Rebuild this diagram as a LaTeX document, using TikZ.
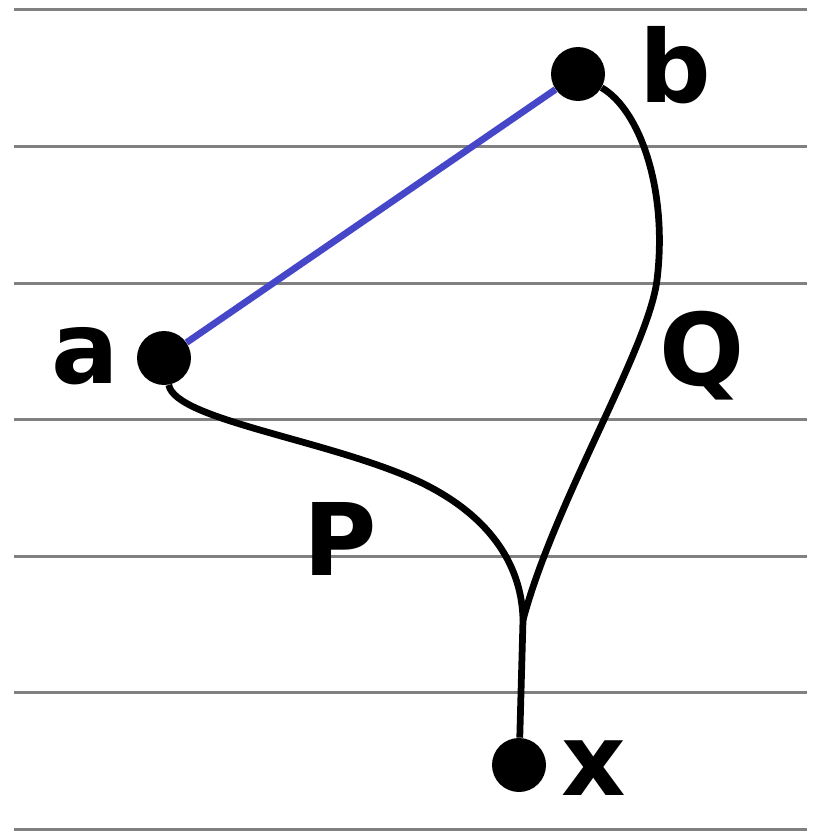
\documentclass[tikz,border=0pt]{standalone}
\usepackage{fontspec}
\setmainfont{DejaVu Sans}
\usetikzlibrary{positioning}
\definecolor{Rule}{HTML}{808080}
\definecolor{Edge}{HTML}{4646C8}

\tikzset{
  dot/.style={circle,fill=black,draw=none,minimum size=1.08cm,inner sep=0pt},
  lbl/.style={inner sep=0pt,anchor=base,text=black,font=\fontsize{57}{60}\selectfont\bfseries},
  path/.style={black,line width=0.135cm}
}

\begin{document}
\begin{tikzpicture}[x=0.02cm,y=-0.02cm]
    \useasboundingbox (0,0) rectangle (815,831);

    % ruled paper
    \draw[Rule,line width=0.06cm] (14,9.5) -- (807,9.5);
    \draw[Rule,line width=0.06cm] (14,146.5) -- (807,146.5);
    \draw[Rule,line width=0.06cm] (14,283) -- (807,283);
    \draw[Rule,line width=0.06cm] (14,419.5) -- (807,419.5);
    \draw[Rule,line width=0.06cm] (14,556) -- (807,556);
    \draw[Rule,line width=0.06cm] (14,692.5) -- (807,692.5);
    \draw[Rule,line width=0.06cm] (14,829) -- (807,829);

    \node[dot] (a) at (164,358) {};
    \node[dot] (b) at (578,74) {};
    \node[dot] (x) at (519,765) {};
    \node[lbl] (alabel) at (85,383) {a};
    \node[lbl] (blabel) at (675,103) {b};
    \node[lbl] (xlabel) at (594,795) {x};
    \node[lbl] (plabel) at (340,575) {P};
    \node[lbl] (qlabel) at (702,385) {Q};
    \coordinate (join) at (523,620);

    \draw[Edge,line width=0.135cm] (a) -- (b);
    \draw[path] (a) .. controls (175,420) and (330,440) .. (420,482)
                    .. controls (495,518) and (522,570) .. (join);
    \draw[path] (b) .. controls (640,110) and (668,190) .. (657,280)
                    .. controls (648,350) and (555,500) .. (join);
    \draw[path] (join) -- (x);
\end{tikzpicture}
\end{document}
